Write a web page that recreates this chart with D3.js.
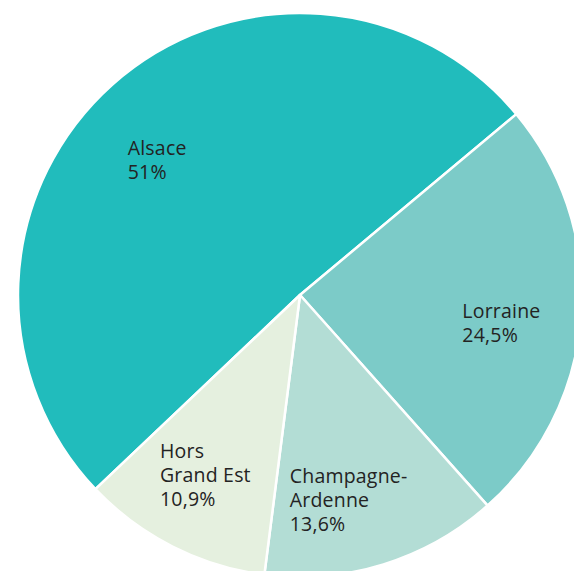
<!DOCTYPE html>
<html>
<head>
<meta charset="utf-8">
<script src="https://cdn.jsdelivr.net/npm/d3@7"></script>
<style>
  body { margin: 0; background: #fff; }
  svg { display: block; }
  text { font-family: "Open Sans", "Noto Sans", sans-serif; font-size: 19.5px; font-weight: 500; fill: #232323; letter-spacing: 0.2px; }
</style>
</head>
<body>
<svg id="chart" width="574" height="571"></svg>
<script>
const regions = ["Alsace", "Lorraine", "Champagne-Ardenne", "Hors Grand Est"];
const labelLines = [["Alsace"], ["Lorraine"], ["Champagne-", "Ardenne"], ["Hors", "Grand Est"]];
const shares = [51, 24.5, 13.6, 10.9];
const colors = ["#21bcbc", "#7ccbc8", "#b3ddd5", "#e5f0df"];

const width = 574;
const height = 571;
const radius = 282;
const cx = 300, cy = 295;
const lineHeight = 24;

// label nudges from the centroid, left-aligned text
const labelShift = [[-56, -9], [-12, 10], [-62, 21], [-61, 7]];

const data = regions.map((r, i) => ({ region: r, lines: labelLines[i], value: shares[i], i }));

const pie = d3.pie()
  .sort(null)
  .value(d => d.value)
  .startAngle(-133.5 * Math.PI / 180)
  .endAngle(226.5 * Math.PI / 180);

const arc = d3.arc().innerRadius(0).outerRadius(radius);
const labelArc = d3.arc().innerRadius(radius * 0.62).outerRadius(radius * 0.62);

const fmt = v => String(v).replace(".", ",") + "%";

const svg = d3.select("#chart");
const g = svg.append("g").attr("transform", `translate(${cx},${cy})`);

const arcs = pie(data);

g.selectAll("path")
  .data(arcs)
  .join("path")
  .attr("d", arc)
  .attr("fill", d => colors[d.data.i])
  .attr("stroke", "#fff")
  .attr("stroke-width", 2.5)
  .attr("stroke-linejoin", "round");

// one text element per line
arcs.forEach(d => {
  const [x, y] = labelArc.centroid(d);
  const [dx, dy] = labelShift[d.data.i];
  const lines = d.data.lines.concat([fmt(d.data.value)]);
  g.selectAll(null)
    .data(lines)
    .join("text")
    .attr("class", "label")
    .attr("x", x + dx)
    .attr("y", (l, k) => y + dy + k * lineHeight)
    .text(l => l);
});
</script>
</body>
</html>
